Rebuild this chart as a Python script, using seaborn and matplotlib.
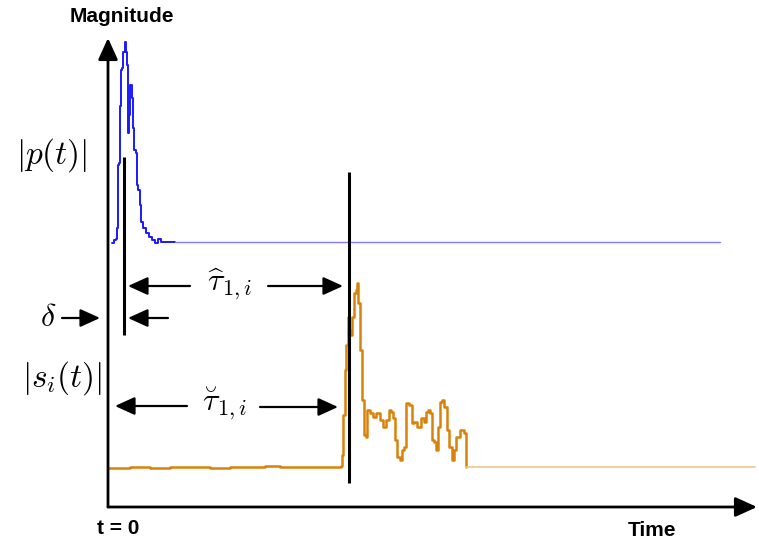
import numpy as np
import seaborn as sns
import matplotlib.pyplot as plt

# time axis units are pixels from the origin, magnitude units are pixels upward
# |p(t)| pulse (blue)
p_t = [4, 6, 8, 9, 10, 11, 12, 13, 14, 15, 16, 17, 18, 19, 20, 21, 22, 23, 24, 25,
       26, 28, 29, 30, 32, 33, 35, 38, 41, 44, 47, 50, 53, 56, 60, 67]
p_mag = [264, 267, 268, 279, 342, 344, 401, 437, 439, 455, 455, 465, 455, 442, 374,
         392, 422, 422, 409, 379, 357, 354, 322, 317, 302, 285, 279, 274, 270, 267,
         264, 268, 265, 265, 265, 265]
p_tail_t = [67, 612]
p_tail_mag = [265, 265]

# |s_i(t)| received signal (orange)
s_t = [0, 22, 42, 62, 82, 102, 122, 147, 157, 172, 192, 212, 230, 233, 234, 235,
       237, 238, 240, 241, 242, 244, 246, 248, 249, 250, 252, 254, 256, 258, 259,
       262, 265, 268, 272, 275, 278, 281, 283, 285, 287, 289, 292, 294, 296, 298,
       301, 304, 306, 309, 313, 316, 318, 320, 322, 324, 326, 328, 330, 332, 334,
       336, 339, 341, 344, 346, 348, 352, 354, 356, 358]
s_mag = [39, 40, 39, 40, 40, 39, 40, 40, 41, 40, 40, 40, 40, 41, 52, 92, 137, 162,
         190, 177, 172, 190, 214, 217, 224, 204, 157, 107, 72, 70, 97, 94, 90, 94,
         87, 80, 87, 97, 95, 89, 67, 50, 47, 57, 60, 104, 102, 84, 85, 80, 89, 85,
         95, 97, 94, 67, 65, 57, 80, 105, 107, 100, 77, 60, 47, 57, 70, 77, 77, 74,
         40]
s_tail_t = [358, 647]
s_tail_mag = [40, 40]

# markers and annotation geometry
delta_t = 16
tau_hat_end = 241
line1_mag = (172, 350)
line2_mag = (24, 335)
axis_top = 469
axis_right = 649

sns.set_style('white')
plt.rcParams['mathtext.fontset'] = 'cm'
plt.rcParams['text.color'] = 'black'

fig = plt.figure(figsize=(7.59, 5.43), dpi=100)
ax = fig.add_axes([0, 0, 1, 1])
ax.set_xlim(-108, 651)
ax.set_ylim(-36, 507)
ax.axis('off')

blue = '#1a1aff'
orange = '#d9820a'
sns.lineplot(x=p_t, y=p_mag, sort=False, estimator=None, ax=ax, color=blue, lw=1.4,
             drawstyle='steps-post')
sns.lineplot(x=p_tail_t, y=p_tail_mag, sort=False, estimator=None, ax=ax, color='#7f7fff', lw=1.0)
sns.lineplot(x=s_t, y=s_mag, sort=False, estimator=None, ax=ax, color=orange, lw=1.8,
             drawstyle='steps-post')
sns.lineplot(x=s_tail_t, y=s_tail_mag, sort=False, estimator=None, ax=ax, color='#f2c58c', lw=1.2)

# vertical marker lines
ax.plot([delta_t, delta_t], line1_mag, color='black', lw=2.2, solid_capstyle='butt')
ax.plot([tau_hat_end, tau_hat_end], line2_mag, color='black', lw=2.2, solid_capstyle='butt')

def arrow(x0, y0, x1, y1, lw=1.6, scale=22):
    ax.annotate('', xy=(x1, y1), xytext=(x0, y0),
                arrowprops=dict(arrowstyle='-|>,head_length=0.55,head_width=0.25',
                                color='black', lw=lw, mutation_scale=scale,
                                shrinkA=0, shrinkB=0))

# axes
arrow(0, 0, 0, axis_top, lw=2.0, scale=24)
arrow(0, 0, axis_right, 0, lw=2.0, scale=24)

# tau hat
arrow(82, 221, 20, 221)
arrow(160, 221, 235, 221)
ax.text(122, 223, r'$\widehat{\tau}_{1,i}$', fontsize=23, ha='center', va='center')

# delta
arrow(-46, 189, -8, 189)
arrow(60, 189, 20, 189)
ax.text(-60, 190, r'$\delta$', fontsize=23, ha='center', va='center')

# tau breve
arrow(79, 101, 7, 101)
arrow(152, 100, 230, 100)
ax.text(117, 103, r'$\breve{\tau}_{1,i}$', fontsize=23, ha='center', va='center')

# signal labels
ax.text(-56, 352, r'$|p(t)|$', fontsize=24, ha='center', va='center')
ax.text(-46, 129, r'$|s_i(t)|$', fontsize=24, ha='center', va='center')

bold = dict(family=['Liberation Sans', 'DejaVu Sans'], weight='bold', fontsize=15,
            color='black')
ax.text(14, 490, 'Magnitude', ha='center', va='center', **bold)
ax.text(10, -21, 't = 0', ha='center', va='center', **bold)
ax.text(544, -24, 'Time', ha='center', va='center', **bold)

fig.savefig('out.png', dpi=100)
